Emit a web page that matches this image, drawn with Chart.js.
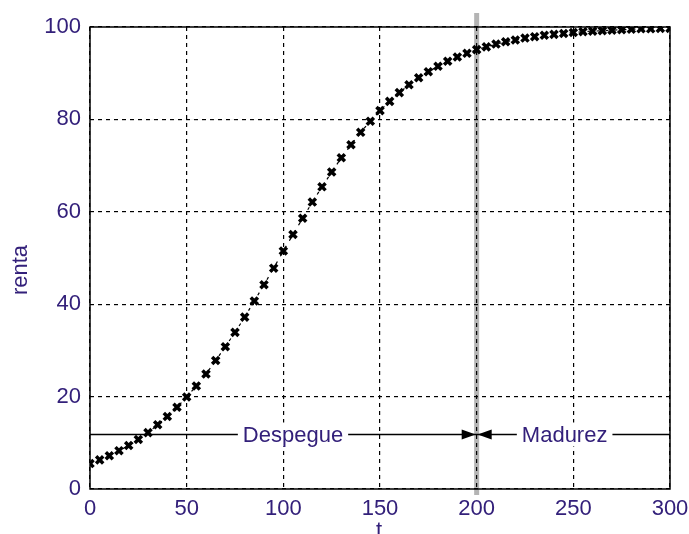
<!DOCTYPE html>
<html>
<head>
<meta charset="utf-8">
<script src="https://cdn.jsdelivr.net/npm/chart.js@4/dist/chart.umd.min.js"></script>
<style>
html,body{margin:0;padding:0;background:#fff;}
canvas{display:block;}
</style>
</head>
<body>
<canvas id="c" width="689" height="534"></canvas>
<script>
const tValues = [0,5,10,15,20,25,30,35,40,45,50,55,60,65,70,75,80,85,90,95,100,105,110,115,120,125,130,135,140,145,150,155,160,165,170,175,180,185,190,195,200,205,210,215,220,225,230,235,240,245,250,255,260,265,270,275,280,285,290,295,300];
const rentaValues = [5.5,6.3,7.2,8.3,9.4,10.7,12.2,13.9,15.7,17.7,19.9,22.3,24.9,27.8,30.8,33.9,37.2,40.7,44.2,47.8,51.5,55.1,58.6,62.1,65.4,68.6,71.7,74.5,77.2,79.6,81.9,83.9,85.8,87.5,89.0,90.3,91.5,92.6,93.5,94.3,95.1,95.7,96.3,96.8,97.2,97.6,97.9,98.2,98.4,98.6,98.8,99.0,99.1,99.2,99.3,99.4,99.5,99.6,99.6,99.7,99.7];
const xTicks = [0,50,100,150,200,250,300];
const yTicks = [0,20,40,60,80,100];
const phaseBoundary = 200;
const annotationLevel = 11.8;
const phaseLabels = ["Despegue","Madurez"];
const phaseLabelPos = [105, 245.5];
const xLabel = "t";
const yLabel = "renta";

const FONT = "Liberation Sans, Arial, sans-serif";
const TXT = "#33207a";

const decor = {
  id: 'decor',
  beforeDraw(chart){
    const ctx = chart.ctx, x = chart.scales.x;
    const px = x.getPixelForValue(phaseBoundary);
    ctx.save();
    ctx.strokeStyle = '#b4b4b4';
    ctx.lineWidth = 5;
    ctx.beginPath();
    ctx.moveTo(px, 13);
    ctx.lineTo(px, 495);
    ctx.stroke();
    ctx.restore();
  },
  beforeDatasetsDraw(chart){
    const ctx = chart.ctx, x = chart.scales.x, y = chart.scales.y;
    const a = chart.chartArea;
    ctx.save();
    ctx.strokeStyle = '#000';
    ctx.lineWidth = 1.5;
    ctx.strokeRect(a.left, a.top, a.right - a.left, a.bottom - a.top);
    const yy = y.getPixelForValue(annotationLevel);
    ctx.lineWidth = 1.3;
    ctx.beginPath();
    ctx.moveTo(a.left, yy);
    ctx.lineTo(a.right, yy);
    ctx.stroke();
    ctx.font = '22px ' + FONT;
    ctx.textAlign = 'center';
    ctx.textBaseline = 'middle';
    phaseLabels.forEach((s, i) => {
      const cx = x.getPixelForValue(phaseLabelPos[i]);
      const w = ctx.measureText(s).width;
      ctx.fillStyle = '#fff';
      ctx.fillRect(cx - w/2 - 5, yy - 12, w + 10, 24);
      ctx.fillStyle = TXT;
      ctx.fillText(s, cx, yy + 1);
    });
    const px = x.getPixelForValue(phaseBoundary);
    ctx.fillStyle = '#000';
    ctx.beginPath();
    ctx.moveTo(px - 1, yy);
    ctx.lineTo(px - 15, yy - 5);
    ctx.lineTo(px - 15, yy + 5);
    ctx.closePath();
    ctx.fill();
    ctx.beginPath();
    ctx.moveTo(px + 1, yy);
    ctx.lineTo(px + 15, yy - 5);
    ctx.lineTo(px + 15, yy + 5);
    ctx.closePath();
    ctx.fill();
    ctx.restore();
  },
  afterDraw(chart){
    const ctx = chart.ctx;
    ctx.save();
    ctx.fillStyle = TXT;
    ctx.font = '22px ' + FONT;
    ctx.textAlign = 'center';
    ctx.textBaseline = 'alphabetic';
    ctx.fillText(xLabel, chart.scales.x.getPixelForValue(150) - 1, 537);
    ctx.translate(21, 270);
    ctx.rotate(-Math.PI/2);
    ctx.textBaseline = 'middle';
    ctx.fillText(yLabel, 0, 0);
    ctx.restore();
  }
};

new Chart(document.getElementById('c'), {
  type: 'line',
  data: {
    datasets: [{
      data: tValues.map((t, i) => ({x: t, y: rentaValues[i]})),
      borderColor: '#000',
      backgroundColor: '#000',
      borderWidth: 1.2,
      borderDash: [3, 6],
      pointStyle: 'crossRot',
      pointRadius: 5,
      pointBorderWidth: 3.5,
      pointBorderColor: '#000',
      fill: false,
      tension: 0
    }]
  },
  options: {
    responsive: false,
    animation: false,
    events: [],
    layout: { padding: { top: 27, right: 19, left: 0, bottom: 0 } },
    plugins: { legend: { display: false }, tooltip: { enabled: false } },
    scales: {
      x: {
        type: 'linear', min: 0, max: 300,
        afterBuildTicks(s){ s.ticks = xTicks.map(v => ({value: v})); },
        afterFit(s){ s.height = 45; s.paddingLeft = 0; s.paddingRight = 0; },
        grid: { color: '#000', lineWidth: 1.2, drawTicks: false },
        border: { display: false, dash: [4, 4] },
        ticks: { color: TXT, font: { family: FONT, size: 22 }, padding: 7, maxRotation: 0 }
      },
      y: {
        type: 'linear', min: 0, max: 100,
        afterBuildTicks(s){ s.ticks = yTicks.map(v => ({value: v})); },
        afterFit(s){ s.width = 90; s.paddingTop = 0; s.paddingBottom = 0; },
        grid: { color: '#000', lineWidth: 1.2, drawTicks: false },
        border: { display: false, dash: [4, 4] },
        ticks: { color: TXT, font: { family: FONT, size: 22 }, padding: 9 }
      }
    }
  },
  plugins: [decor]
});
</script>
</body>
</html>
